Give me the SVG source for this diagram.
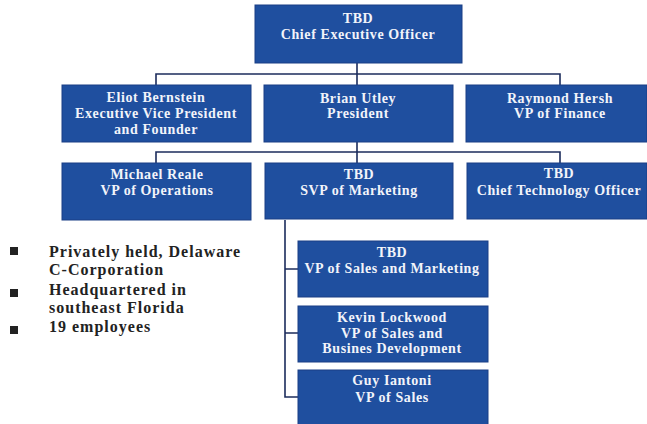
<svg xmlns="http://www.w3.org/2000/svg" width="647" height="424" viewBox="0 0 647 424">
<style>
.box{fill:#1f4f9f;stroke:#1a3f85;stroke-width:1}
.t{font-family:"Liberation Serif","Times New Roman",serif;font-weight:bold;font-size:14px;fill:#f2f4fa;text-anchor:middle;letter-spacing:0.6px}
.b{font-family:"Liberation Serif","Times New Roman",serif;font-weight:bold;font-size:16px;fill:#222;letter-spacing:1px}
.c{fill:none;stroke:#1c2c5c;stroke-width:1.6}
</style>
<rect width="647" height="424" fill="#fff"/>
<g id="connectors">
<path class="c" d="M357,63 V74 M156,85 V74 H560 V85 M357,74 V85"/>
<path class="c" d="M357,142 V152 M156,163 V152 H560 V163 M357,152 V163"/>
<path class="c" d="M285,220 V397 H298 M285,269 H298 M285,333 H298"/>
</g>
<g id="ceo"><rect class="box" x="255" y="5" width="207" height="58"/>
<text class="t" x="358" y="23">TBD</text><text class="t" x="358" y="39">Chief Executive Officer</text></g>
<g id="eliot"><rect class="box" x="62" y="85" width="189" height="57"/>
<text class="t" x="156" y="102">Eliot Bernstein</text><text class="t" x="156" y="118">Executive Vice President</text><text class="t" x="156" y="134">and Founder</text></g>
<g id="brian"><rect class="box" x="264" y="85" width="189" height="57"/>
<text class="t" x="358" y="103">Brian Utley</text><text class="t" x="358" y="118">President</text></g>
<g id="raymond"><rect class="box" x="466" y="85" width="181" height="57"/>
<text class="t" x="560" y="103">Raymond Hersh</text><text class="t" x="560" y="118">VP of Finance</text></g>
<g id="michael"><rect class="box" x="62" y="163" width="189" height="57"/>
<text class="t" x="157" y="179">Michael Reale</text><text class="t" x="157" y="195">VP of Operations</text></g>
<g id="svp"><rect class="box" x="265" y="163" width="188" height="56"/>
<text class="t" x="359" y="179">TBD</text><text class="t" x="359" y="195">SVP of Marketing</text></g>
<g id="cto"><rect class="box" x="467" y="163" width="180" height="56"/>
<text class="t" x="559" y="178">TBD</text><text class="t" x="559" y="195">Chief Technology Officer</text></g>
<g id="vpsm"><rect class="box" x="298" y="241" width="190" height="56"/>
<text class="t" x="392" y="257">TBD</text><text class="t" x="392" y="273">VP of Sales and Marketing</text></g>
<g id="kevin"><rect class="box" x="298" y="306" width="190" height="56"/>
<text class="t" x="392" y="322">Kevin Lockwood</text><text class="t" x="392" y="338">VP of Sales and</text><text class="t" x="392" y="353">Busines Development</text></g>
<g id="guy"><rect class="box" x="298" y="370" width="190" height="56"/>
<text class="t" x="392" y="385">Guy Iantoni</text><text class="t" x="392" y="402">VP of Sales</text></g>
<g id="bullets">
<rect x="10" y="247" width="8" height="8" fill="#222"/>
<rect x="10" y="289" width="8" height="8" fill="#222"/>
<rect x="10" y="326" width="8" height="8" fill="#222"/>
<text class="b" x="49" y="257">Privately held, Delaware</text>
<text class="b" x="49" y="275">C-Corporation</text>
<text class="b" x="49" y="295">Headquartered in</text>
<text class="b" x="49" y="313">southeast Florida</text>
<text class="b" x="49" y="332">19 employees</text>
</g>
</svg>
